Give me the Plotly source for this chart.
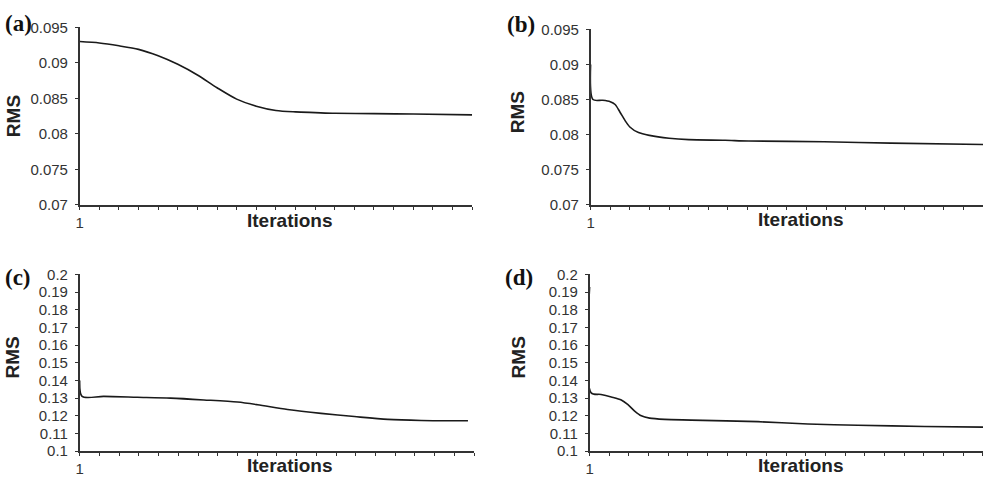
import plotly.graph_objects as go

W, H = 983, 492

# ---- data ----
a_x = [1, 2, 3, 4, 5, 6, 7, 8, 9, 10, 11, 12, 13, 14, 16, 18, 21]
a_y = [0.0930, 0.0928, 0.0924, 0.0919, 0.0910, 0.0898, 0.0883, 0.0865, 0.0849,
       0.0839, 0.0833, 0.0831, 0.0830, 0.0829, 0.08285, 0.0828, 0.08268]

b_x = [1, 1.12, 1.6, 2.0, 2.25, 2.5, 2.76, 3.0, 3.44, 4.0, 5, 6, 7.85, 9.05, 12.9, 16.3, 21.05]
b_y = [0.0900, 0.0850, 0.0849, 0.0847, 0.0843, 0.0832, 0.0820, 0.0811, 0.0803, 0.0799,
       0.0795, 0.0793, 0.0792, 0.0791, 0.0790, 0.0788, 0.0786]

c_x = [1, 1.12, 2.22, 3.92, 5.61, 7.3, 9.0, 10.02, 11.54, 13.24, 14.93, 16.63, 18.32, 20.69]
c_y = [0.140, 0.131, 0.131, 0.1305, 0.130, 0.129, 0.1278, 0.1263, 0.1236, 0.1214,
       0.1196, 0.1180, 0.1174, 0.1172]

d_x = [1, 1.08, 1.58, 2.10, 2.61, 2.95, 3.29, 3.63, 4.05, 4.81, 6.17, 9.56, 12.1, 14.64, 18.03, 21.07]
d_y = [0.193, 0.133, 0.1321, 0.1307, 0.129, 0.1263, 0.1227, 0.120, 0.1187, 0.118,
       0.1176, 0.1167, 0.1154, 0.1147, 0.1140, 0.1136]

top_ticks = [0.07, 0.075, 0.08, 0.085, 0.09, 0.095]
top_labels = ["0.07", "0.075", "0.08", "0.085", "0.09", "0.095"]
bot_ticks = [0.10, 0.11, 0.12, 0.13, 0.14, 0.15, 0.16, 0.17, 0.18, 0.19, 0.20]
bot_labels = ["0.1", "0.11", "0.12", "0.13", "0.14", "0.15", "0.16", "0.17", "0.18", "0.19", "0.2"]
panel_labels = ["(a)", "(b)", "(c)", "(d)"]
x_title = "Iterations"
y_title = "RMS"

# ---- layout geometry (pixels) ----
panels = [
    dict(x=a_x, y=a_y, xd=(76, 470), yd=(19, 203), rng=(0.07, 0.095), tv=top_ticks, tt=top_labels),
    dict(x=b_x, y=b_y, xd=(589, 983), yd=(21, 203), rng=(0.07, 0.095), tv=top_ticks, tt=top_labels),
    dict(x=c_x, y=c_y, xd=(76, 472), yd=(275, 458), rng=(0.10, 0.20), tv=bot_ticks, tt=bot_labels),
    dict(x=d_x, y=d_y, xd=(588, 983), yd=(275, 458), rng=(0.10, 0.20), tv=bot_ticks, tt=bot_labels),
]

fig = go.Figure()
axis_col = "#333333"
tick_font = dict(family="Liberation Sans, Arial, sans-serif", size=15, color="#333333")

for i, p in enumerate(panels):
    n = "" if i == 0 else str(i + 1)
    fig.add_trace(go.Scatter(x=p["x"], y=p["y"], mode="lines",
                             line=dict(color="#1a1a1a", width=1.6, shape="spline", smoothing=0.8),
                             xaxis="x" + n, yaxis="y" + n, showlegend=False, hoverinfo="skip",
                             cliponaxis=False))
    xd = [p["xd"][0] / W, p["xd"][1] / W]
    yd = [1 - p["yd"][1] / H, 1 - p["yd"][0] / H]
    fig.layout["xaxis" + n] = dict(
        domain=xd, range=[1, 21], anchor="y" + n, showgrid=False, zeroline=False,
        showline=True, linecolor=axis_col, linewidth=1.5,
        tickmode="array", tickvals=[1], ticktext=["1"], ticks="outside", ticklen=3,
        tickcolor=axis_col, tickfont=tick_font,
        minor=dict(ticks="outside", ticklen=3, tick0=1, dtick=1, tickcolor=axis_col, showgrid=False),
        fixedrange=True,
    )
    fig.layout["yaxis" + n] = dict(
        domain=yd, range=list(p["rng"]), anchor="x" + n, showgrid=False, zeroline=False,
        showline=True, linecolor=axis_col, linewidth=1.5,
        tickmode="array", tickvals=p["tv"], ticktext=p["tt"], ticks="outside", ticklen=3,
        tickcolor=axis_col, tickfont=tick_font, ticklabelstandoff=4, fixedrange=True,
    )

ann = []
title_font = dict(family="Liberation Sans, Arial, sans-serif", size=19, color="#222222")
label_font = dict(family="Liberation Serif, Times New Roman, serif", size=23, color="#111111")
it_pos = [(287, 219), (800, 218), (287, 473), (800, 473)]
rms_pos = [(9, 111), (515, 107), (9, 361), (517, 361)]
pl_pos = [(-1, 15), (535, 16), (-1, 278), (533, 278)]
for i in range(4):
    ann.append(dict(text="<b>%s</b>" % x_title, x=it_pos[i][0] / W, y=1 - it_pos[i][1] / H,
                    xref="paper", yref="paper", showarrow=False, font=title_font,
                    xanchor="center", yanchor="middle"))
    ann.append(dict(text="<b>%s</b>" % y_title, x=rms_pos[i][0] / W, y=1 - rms_pos[i][1] / H,
                    xref="paper", yref="paper", showarrow=False, font=title_font, textangle=-90,
                    xanchor="center", yanchor="middle"))
    xa = "left" if i in (0, 2) else "right"
    ann.append(dict(text="<b>%s</b>" % panel_labels[i], x=pl_pos[i][0] / W, y=1 - pl_pos[i][1] / H,
                    xref="paper", yref="paper", showarrow=False, font=label_font,
                    xanchor=xa, yanchor="middle"))

fig.update_layout(width=W, height=H, margin=dict(l=0, r=0, t=0, b=0),
                  paper_bgcolor="white", plot_bgcolor="white", annotations=ann)

fig.write_html("out.html", config={"displayModeBar": False})
